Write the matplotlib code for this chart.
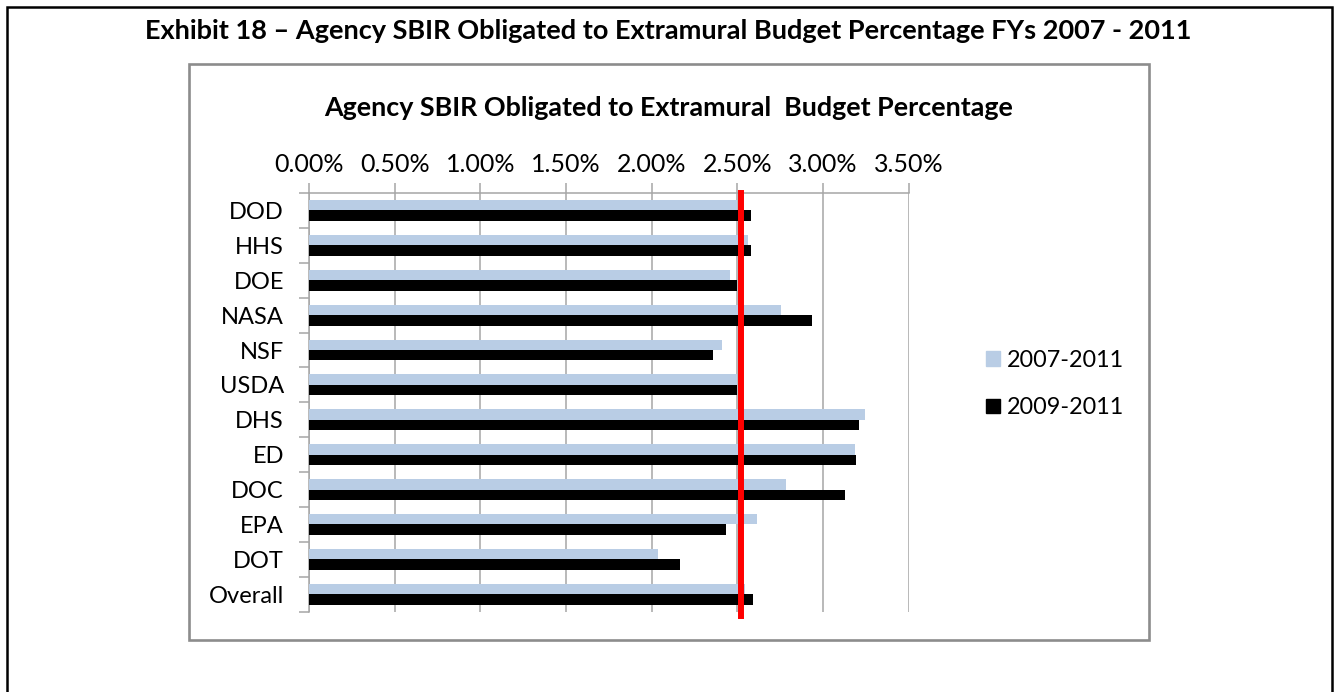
import numpy as np
import matplotlib
matplotlib.use("Agg")
import matplotlib.pyplot as plt
from matplotlib.patches import Rectangle, Patch
from matplotlib.ticker import FixedLocator

plt.rcParams['font.family'] = ['Lato', 'DejaVu Sans']

W, H = 1336, 692

agencies = ['DOD', 'HHS', 'DOE', 'NASA', 'NSF', 'USDA', 'DHS', 'ED', 'DOC', 'EPA', 'DOT', 'Overall']
pct_2007_2011 = [2.50, 2.56, 2.455, 2.753, 2.411, 2.50, 3.247, 3.189, 2.784, 2.613, 2.035, 2.543]
pct_2009_2011 = [2.582, 2.582, 2.50, 2.938, 2.358, 2.50, 3.208, 3.195, 3.127, 2.432, 2.164, 2.590]
target_pct = 2.52
x_ticks = [0.0, 0.5, 1.0, 1.5, 2.0, 2.5, 3.0, 3.5]

LIGHT = '#b9cde5'
GRID = '#a6a6a6'


def px(x, y):
    # pixel (from top-left) -> figure fraction
    return x / W, 1 - y / H


fig = plt.figure(figsize=(W / 100, H / 100), dpi=100)

# outer exhibit frame (bottom runs off the image)
fig.patches.append(Rectangle(px(7, 720), (1332 - 7) / W, (720 - 7) / H, transform=fig.transFigure,
                             fill=False, edgecolor='black', linewidth=1.8, clip_on=False))
# inner chart frame
fig.patches.append(Rectangle(px(189, 640), (1149 - 189) / W, (640 - 64) / H, transform=fig.transFigure,
                             fill=False, edgecolor='#8c8c8c', linewidth=1.9))

fig.text(*px(668, 31), 'Exhibit 18 \u2013 Agency SBIR Obligated to Extramural Budget Percentage FYs 2007 - 2011',
         ha='center', va='center', fontsize=19.5, fontweight='bold')
fig.text(*px(669, 108), 'Agency SBIR Obligated to Extramural  Budget Percentage',
         ha='center', va='center', fontsize=19.4, fontweight='bold')

left, top, right, bottom = 309, 193, 908.7, 611.7
ax = fig.add_axes([left / W, 1 - bottom / H, (right - left) / W, (bottom - top) / H])

y = np.arange(len(agencies))
h = 0.3
ax.barh(y - h / 2, pct_2007_2011, height=h, color=LIGHT, label='2007-2011', zorder=3)
ax.barh(y + h / 2, pct_2009_2011, height=h, color='black', label='2009-2011', zorder=3)

ax.set_xlim(0, 3.5)
ax.set_ylim(len(agencies) - 0.5, -0.5)

ax.xaxis.tick_top()
ax.set_xticks(x_ticks)
ax.set_xticklabels([f'{v:.2f}%' for v in x_ticks])
ax.tick_params(axis='x', which='major', length=7, width=1.1, color=GRID, pad=5, labelsize=18)
ax.grid(axis='x', color=GRID, linewidth=1.1, zorder=0)

ax.set_yticks(y)
ax.set_yticklabels(agencies)
ax.tick_params(axis='y', which='major', length=0, pad=18, labelsize=17)
ax.yaxis.set_minor_locator(FixedLocator(np.arange(-0.5, len(agencies), 1.0)))
ax.tick_params(axis='y', which='minor', length=7, width=1.1, color=GRID)

for s in ['right', 'bottom']:
    ax.spines[s].set_visible(False)
for s in ['top', 'left']:
    ax.spines[s].set_color(GRID)
    ax.spines[s].set_linewidth(1.1)

ax.axvline(target_pct, ymin=-0.0103, ymax=1, color='#ff0000', linewidth=4.3, zorder=4, clip_on=False)

fig.legend(handles=[Patch(color=LIGHT), Patch(color='black')], labels=['2007-2011', '2009-2011'],
           loc='center left', bbox_to_anchor=px(965, 384), frameon=False, fontsize=16.8,
           handlelength=0.6, handleheight=0.6, handletextpad=0.3, labelspacing=1.14)

fig.savefig('out.png', dpi=100)
